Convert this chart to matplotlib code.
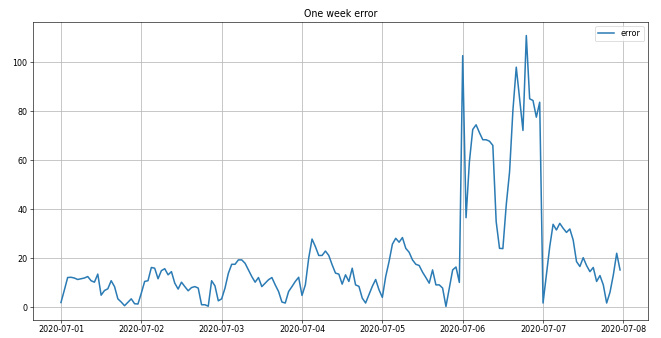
import numpy as np
import pandas as pd
import matplotlib
matplotlib.use('Agg')
import matplotlib.pyplot as plt
import matplotlib.dates as mdates

# 1時間ごとの誤差
day1 = [2.0, 7.0, 12.2, 12.3, 12.0, 11.4, 11.7, 12.0, 12.6, 10.9, 10.3, 13.6,
        5.0, 6.9, 7.6, 10.9, 8.5, 3.5, 2.2, 0.7, 2.1, 3.5, 1.5, 1.4]
day2 = [5.8, 10.6, 10.9, 16.3, 16.0, 11.7, 15.0, 15.8, 13.3, 14.6, 9.9, 7.5,
        10.3, 8.5, 6.8, 8.1, 8.5, 7.9, 1.1, 1.1, 0.5, 10.9, 8.8, 2.7]
day3 = [3.5, 7.9, 13.9, 17.6, 17.6, 19.4, 19.4, 18.0, 15.3, 12.6, 10.3, 12.2,
        8.5, 9.9, 11.3, 12.2, 9.2, 6.5, 2.2, 1.8, 6.5, 8.5, 10.6, 12.3]
day4 = [4.9, 9.2, 20.1, 27.9, 24.8, 21.2, 21.2, 23.0, 21.2, 17.4, 14.0, 13.6,
        9.5, 13.3, 10.6, 16.0, 9.2, 8.6, 3.8, 1.8, 5.2, 8.6, 11.4, 7.2]
day5 = [4.1, 12.6, 18.7, 25.8, 28.2, 26.6, 28.5, 24.1, 22.5, 19.4, 17.6, 17.1,
        14.4, 12.2, 9.9, 15.3, 9.2, 9.2, 7.9, 0.4, 7.9, 15.3, 16.5, 10.2]
day6 = [102.7, 36.6, 59.4, 72.6, 74.5, 71.3, 68.4, 68.4, 67.8, 66.1, 35.0, 24.1,
        24.0, 41.7, 55.3, 80.4, 98.0, 85.1, 72.2, 110.9, 85.1, 84.4, 77.6, 83.7]
day7 = [1.8, 13.3, 24.8, 33.9, 31.6, 34.3, 32.3, 30.6, 32.0, 27.5, 18.7, 16.7,
        20.3, 17.1, 14.6, 16.3, 10.6, 13.0, 9.2, 1.8, 6.2, 13.3, 22.1, 15.3]

error = day1 + day2 + day3 + day4 + day5 + day6 + day7
times = pd.date_range('2020-07-01 00:00', periods=len(error), freq='h')
df = pd.DataFrame({'error': error}, index=times)

fig = plt.figure(figsize=(661 / 55, 338 / 55), dpi=55)
ax = fig.add_axes([33 / 661, 18 / 338, 615 / 661, 298 / 338])

ax.plot(df.index, df['error'], color='#2b7bb4', linewidth=2.0, label='error')
ax.set_title('One week error', fontsize=12.5)
ax.grid(True, color='#b8b8b8', linewidth=1.0)
ax.legend(loc='upper right', fontsize=10.5)
ax.tick_params(labelsize=10.5)

ax.xaxis.set_major_locator(mdates.DayLocator())
ax.xaxis.set_major_formatter(mdates.DateFormatter('%Y-%m-%d'))

plt.savefig('out.png', dpi=55)
